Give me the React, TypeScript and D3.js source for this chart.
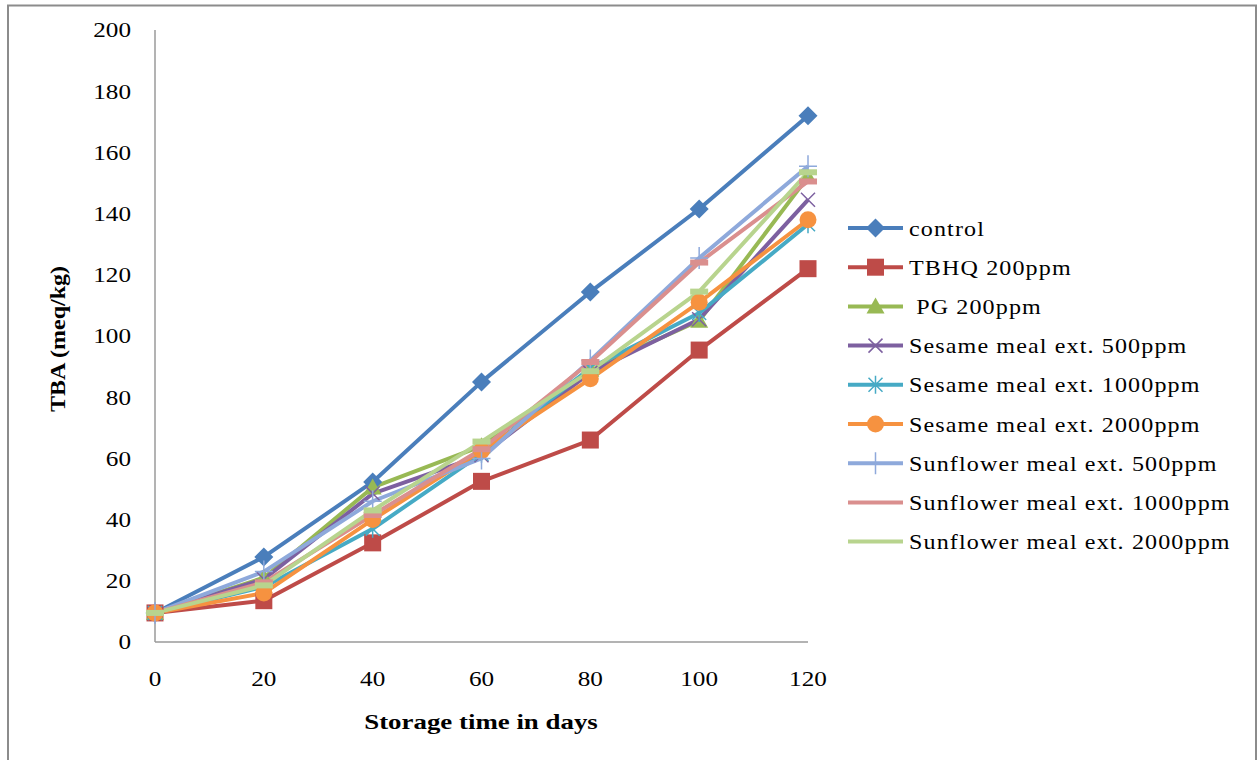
import React from "react";
import * as d3 from "d3";

const days = [0, 20, 40, 60, 80, 100, 120];
const yTicks = [0, 20, 40, 60, 80, 100, 120, 140, 160, 180, 200];

const control = [9.5, 27.8, 52.3, 85, 114.4, 141.5, 172];
const tbhq = [9.5, 13.5, 32.4, 52.5, 66, 95.4, 122];
const pg = [9.5, 21, 50.5, 64, 89, 105, 152];
const sesame500 = [9.5, 20.5, 48.5, 61, 88, 105.5, 144.5];
const sesame1000 = [9.5, 18, 37, 61.5, 89.5, 107.5, 136.5];
const sesame2000 = [9.5, 16, 40, 62.5, 86, 111, 138];
const sunflower500 = [9.5, 23, 46, 60, 92, 125.5, 155.5];
const sunflower1000 = [9.5, 19.5, 41.5, 63, 91.5, 124, 150.5];
const sunflower2000 = [9.5, 18.5, 43, 65.5, 88.5, 114.5, 153.5];

const seriesNames = [
  "control",
  "TBHQ 200ppm",
  " PG 200ppm",
  "Sesame meal ext. 500ppm",
  "Sesame meal ext. 1000ppm",
  "Sesame meal ext. 2000ppm",
  "Sunflower meal ext. 500ppm",
  "Sunflower meal ext. 1000ppm",
  "Sunflower meal ext. 2000ppm",
];
const seriesValues = [control, tbhq, pg, sesame500, sesame1000, sesame2000, sunflower500, sunflower1000, sunflower2000];
const seriesColors = ["#4A7EBB", "#BE4B48", "#98B954", "#7D60A0", "#46AAC5", "#F69240", "#8EA9DB", "#DA8F8E", "#B8D48E"];
const seriesMarkers = ["diamond", "square", "triangle", "x", "asterisk", "circle", "plus", "dash", "dash"];

const FONT = "'Liberation Serif', 'Times New Roman', serif";

function SText({
  x,
  y,
  sx = 1,
  anchor = "start",
  size = 20,
  bold = false,
  spacing = 0,
  children,
}: {
  x: number;
  y: number;
  sx?: number;
  anchor?: string;
  size?: number;
  bold?: boolean;
  spacing?: number;
  children: React.ReactNode;
}) {
  return (
    <g transform={`translate(${x},${y}) scale(${sx},1)`}>
      <text
        x={0}
        y={0}
        dy="0.35em"
        textAnchor={anchor}
        fontSize={size}
        fontWeight={bold ? "bold" : "normal"}
        letterSpacing={spacing}
        style={{ whiteSpace: "pre" }}
      >
        {children}
      </text>
    </g>
  );
}

function Marker({ type, x, y, color }: { type: string; x: number; y: number; color: string }) {
  switch (type) {
    case "diamond":
      return <path d={`M${x},${y - 9.5}L${x + 9.5},${y}L${x},${y + 9.5}L${x - 9.5},${y}Z`} fill={color} />;
    case "square":
      return <rect x={x - 8.5} y={y - 8.5} width={17} height={17} fill={color} />;
    case "triangle":
      return <path d={`M${x},${y - 9}L${x + 9},${y + 7}L${x - 9},${y + 7}Z`} fill={color} />;
    case "x":
      return (
        <path d={`M${x - 7},${y - 7}L${x + 7},${y + 7}M${x - 7},${y + 7}L${x + 7},${y - 7}`} stroke={color} strokeWidth={1.5} fill="none" />
      );
    case "asterisk":
      return (
        <path
          d={`M${x - 7},${y - 7}L${x + 7},${y + 7}M${x - 7},${y + 7}L${x + 7},${y - 7}M${x},${y - 9}L${x},${y + 9}`}
          stroke={color}
          strokeWidth={1.5}
          fill="none"
        />
      );
    case "circle":
      return <circle cx={x} cy={y} r={8.5} fill={color} />;
    case "plus":
      return <path d={`M${x - 9},${y}L${x + 9},${y}M${x},${y - 11}L${x},${y + 11}`} stroke={color} strokeWidth={1.5} fill="none" />;
    case "dash":
      return <rect x={x - 9} y={y - 3} width={18} height={6} fill={color} />;
    default:
      return null;
  }
}

export default function App() {
  const W = 1257;
  const H = 760;
  const left = 155;
  const right = 808;
  const top = 30;
  const bottom = 642;

  const x = d3.scaleLinear().domain([0, 120]).range([left, right]);
  const y = d3.scaleLinear().domain([0, 200]).range([bottom, top]);
  const line = d3
    .line<number>()
    .x((_, i) => x(days[i]))
    .y((d) => y(d));

  const legendX = 848;
  const legendY0 = 228;
  const legendStep = 39.2;

  return (
    <svg width={W} height={H} style={{ position: "absolute", left: 0, top: 0, background: "#fff" }} fontFamily={FONT}>
      <rect x={0} y={0} width={W} height={H} fill="#fff" />
      <path d={`M8,${H + 5}L8,5.5L1256,5.5L1256,${H + 5}`} fill="none" stroke="#8c8c8c" strokeWidth={2} />
      {/* axes */}
      <line x1={left} x2={left} y1={top} y2={bottom} stroke="#9a9a9a" strokeWidth={1.5} />
      <line x1={left} x2={right} y1={bottom} y2={bottom} stroke="#9a9a9a" strokeWidth={1.5} />
      {yTicks.map((t) => (
        <SText key={t} x={131} y={y(t)} anchor="end" size={21} sx={1.2}>
          {t}
        </SText>
      ))}
      {days.map((d) => (
        <SText key={d} x={x(d)} y={bottom + 37} anchor="middle" size={21} sx={1.2}>
          {d}
        </SText>
      ))}
      <g transform={`translate(58,${(top + bottom) / 2 + 3}) rotate(-90)`}>
        <SText x={0} y={0} anchor="middle" size={20} bold sx={1.2}>
          TBA (meq/kg)
        </SText>
      </g>
      <SText x={481} y={722} anchor="middle" size={21} bold sx={1.28}>
        Storage time in days
      </SText>
      {/* series lines */}
      {seriesValues.map((vals, i) => (
        <path key={`l${i}`} d={line(vals) || ""} fill="none" stroke={seriesColors[i]} strokeWidth={4} strokeLinejoin="round" />
      ))}
      {seriesValues.map((vals, i) => (
        <g key={`m${i}`}>
          {vals.map((v, j) => (
            <Marker key={j} type={seriesMarkers[i]} x={x(days[j])} y={y(v)} color={seriesColors[i]} />
          ))}
        </g>
      ))}
      {/* legend */}
      {seriesNames.map((name, i) => {
        const ly = legendY0 + i * legendStep;
        return (
          <g key={`lg${i}`}>
            <line x1={legendX} x2={legendX + 55} y1={ly} y2={ly} stroke={seriesColors[i]} strokeWidth={4} />
            {seriesMarkers[i] !== "dash" && (
              <Marker type={seriesMarkers[i]} x={legendX + 27.5} y={ly} color={seriesColors[i]} />
            )}
            <SText x={legendX + 61} y={ly} size={21.5} sx={1.12} spacing={1}>
              {name}
            </SText>
          </g>
        );
      })}
    </svg>
  );
}
